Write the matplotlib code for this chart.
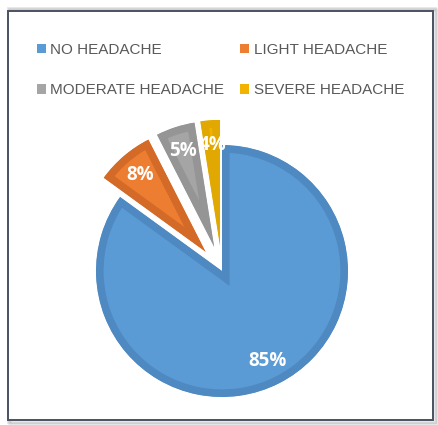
import matplotlib.pyplot as plt
from matplotlib.patches import Rectangle, Patch

# data
categories = ['NO HEADACHE', 'LIGHT HEADACHE', 'MODERATE HEADACHE', 'SEVERE HEADACHE']
shares = [85, 7.5, 5, 2.5]
pct_labels = ['85%', '8%', '5%', '4%']
colors = ['#5B9BD5', '#ED7D31', '#A5A5A5', '#F2B200']
edge_colors = ['#4F89C2', '#D46A28', '#959595', '#E0A800']
explode = [0, 0.2, 0.2, 0.2]

fig = plt.figure(figsize=(4.38, 4.25), dpi=100)
W, H = 438, 425

# outer chart frame with a bit of shadow
for i, a in enumerate([0.10, 0.07, 0.04]):
    fig.patches.append(Rectangle(((8 + i) / W, (5 - 2 - i) / H), 427 / W, 414 / H,
                                 transform=fig.transFigure, facecolor='none',
                                 edgecolor=(0, 0, 0, a), linewidth=2, zorder=-2))
fig.patches.append(Rectangle((8 / W, 5 / H), 425 / W, 409 / H, transform=fig.transFigure,
                             facecolor='white', edgecolor='#4a5262', linewidth=1.4, zorder=-1))

# pie: centre about (222, 271) px, radius 126 px
r = 126
lim = 1.2
size = 2 * lim * r
ax = fig.add_axes([(222 - size / 2) / W, (H - 271 - size / 2) / H, size / W, size / H])
ax.set_zorder(2)
wedges, texts = ax.pie(shares, explode=explode, colors=colors, startangle=90,
                       counterclock=False, labels=pct_labels, labeldistance=0.8,
                       wedgeprops=dict(linewidth=11, joinstyle='miter'))
# border only on the inside of each slice
for w, ec in zip(wedges, edge_colors):
    w.set_edgecolor(ec)
    w.set_clip_on(True)
    w.set_clip_path(w)
for t in texts:
    t.set_horizontalalignment('center')
    t.set_verticalalignment('center')
    t.set_color('white')
    t.set_fontweight('bold')
    t.set_fontsize(13.5)
    t.set_family('Open Sans')
ax.set_xlim(-lim, lim)
ax.set_ylim(-lim, lim)
ax.set_aspect('equal')
ax.axis('off')

# legend, row-wise order like the original
handles = [Patch(facecolor=c, edgecolor='none') for c in colors]
order = [0, 2, 1, 3]
leg = fig.legend([handles[i] for i in order], [categories[i] for i in order],
                 ncol=2, loc='upper left', bbox_to_anchor=(23 / W, 1 - 29 / H),
                 frameon=False, handlelength=0.6, handleheight=0.6, handletextpad=0.3,
                 columnspacing=1.0, labelspacing=1.75,
                 prop={'family': 'Liberation Sans', 'size': 11})
for t in leg.get_texts():
    t.set_color('#595959')

fig.savefig('out.png', dpi=100)
